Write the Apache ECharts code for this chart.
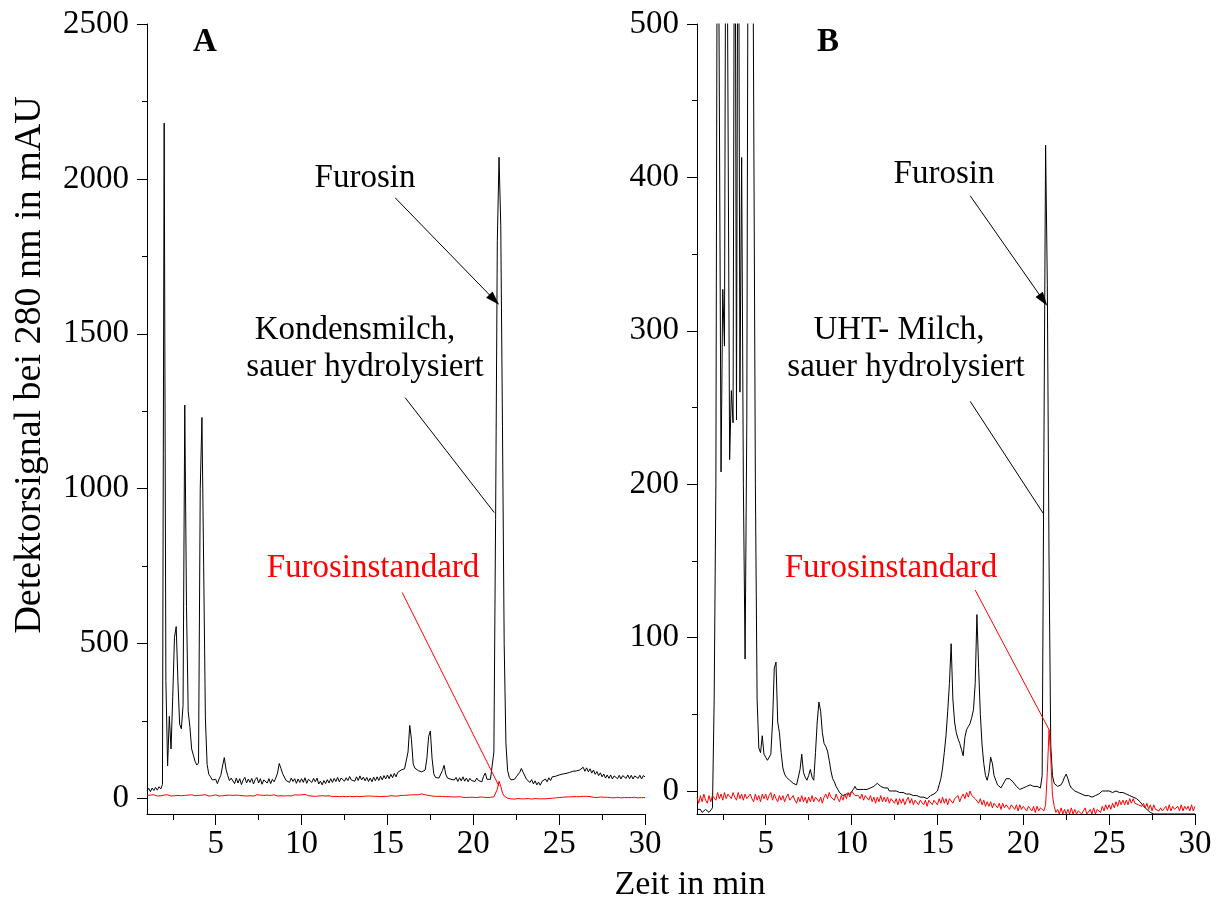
<!DOCTYPE html>
<html>
<head>
<meta charset="utf-8">
<script src="https://cdn.jsdelivr.net/npm/echarts@6/dist/echarts.min.js"></script>
<style>
  html, body { margin: 0; padding: 0; background: #fff; }
  #chart { width: 1223px; height: 906px; }
</style>
</head>
<body>
<div id="chart"></div>
<script>
// Chromatogram sampling: first time point and step (min)
const T0 = 1.0;
const DT = 0.1;

// Panel A: Kondensmilch, sauer hydrolysiert (mAU), t = 1.0 ... 30.0 min
const kondensmilch = [
  24, 33, 22, 34, 26, 36, 27, 38, 31, 45,
  2180, 380, 105, 265, 160, 330, 520, 555, 380, 240,
  225, 300, 1270, 620, 280, 230, 160, 140, 120, 108,
  115, 1000, 1230, 750, 260, 110, 78, 70, 60, 64,
  62, 48, 63, 75, 105, 132, 95, 74, 58, 66,
  62, 48, 66, 50, 64, 45, 60, 68, 50, 63,
  52, 65, 47, 61, 68, 50, 64, 46, 60, 66,
  50, 64, 48, 62, 54, 66, 82, 113, 97, 80,
  74, 58, 62, 52, 66, 55, 64, 49, 63, 52,
  64, 52, 67, 49, 62, 68, 52, 65, 54, 66,
  47, 56, 44, 58, 48, 61, 50, 64, 52, 65,
  55, 68, 54, 66, 70, 56, 67, 58, 71, 60,
  66, 56, 70, 58, 73, 60, 69, 57, 68, 55,
  66, 54, 69, 57, 70, 58, 72, 60, 74, 63,
  76, 64, 78, 67, 81, 70, 84, 80, 92, 90,
  96, 102, 150, 236, 190, 112, 98, 94, 90, 88,
  86, 90, 92, 130, 200, 218, 130, 80, 68, 72,
  66, 70, 90, 107, 78, 66, 70, 62, 67, 60,
  68, 55, 67, 57, 70, 56, 66, 54, 65, 58,
  64, 55, 66, 58, 62, 54, 72, 82, 62, 58,
  62, 58, 150, 900, 1800, 2070, 1850, 1200, 500, 180,
  90, 68, 60, 55, 62, 70, 76, 84, 97, 85,
  82, 62, 64, 52, 61, 47, 57, 44, 53, 43,
  55, 50, 63, 54, 67, 58, 70, 65, 72, 70,
  76, 72, 79, 74, 81, 79, 84, 81, 88, 84,
  89, 86, 92, 90, 101, 88, 99, 86, 96, 82,
  92, 78, 87, 74, 83, 70, 79, 66, 76, 65,
  76, 63, 73, 77, 64, 75, 63, 74, 78, 65,
  76, 64, 75, 63, 73, 77, 65, 75, 63, 74,
  70
];

// Panel A: Furosinstandard (mAU)
const standardA = [
  10, 8, 11, 9, 12, 10, 8, 11, 9, 10,
  11, 9, 12, 10, 8, 11, 9, 12, 10, 11,
  9, 12, 10, 8, 11, 9, 12, 10, 9, 11,
  10, 8, 11, 9, 12, 10, 8, 11, 9, 10,
  12, 10, 8, 11, 9, 12, 10, 9, 11, 8,
  10, 9, 11, 8, 10, 12, 9, 11, 8, 10,
  9, 11, 8, 10, 12, 9, 11, 8, 10, 9,
  11, 8, 10, 9, 12, 10, 8, 11, 9, 10,
  8, 10, 9, 11, 8, 10, 12, 9, 11, 10,
  12, 15, 13, 11, 9, 10, 8, 9, 7, 9,
  8, 7, 9, 6, 8, 7, 9, 8, 6, 8,
  7, 9, 6, 8, 7, 9, 6, 8, 7, 8,
  6, 8, 7, 9, 6, 8, 7, 6, 8, 7,
  8, 6, 7, 9, 7, 8, 6, 8, 7, 9,
  7, 8, 9, 7, 8, 10, 8, 9, 10, 9,
  10, 9, 11, 10, 12, 11, 12, 13, 12, 14,
  15, 13, 12, 11, 10, 9, 8, 9, 7, 8,
  7, 6, 7, 5, 6, 5, 6, 4, 5, 6,
  5, 4, 6, 5, 4, 5, 3, 5, 4, 5,
  4, 5, 3, 4, 5, 3, 4, 5, 3, 4,
  4, 3, 5, 8, 30, 56, 40, 18, 8, 3,
  1, 0, -1, 0, -2, -1, 0, -2, -1, 0,
  -1, -2, 0, -1, -2, -1, 0, -2, -1, -2,
  -1, 0, -1, 1, 0, 2, 1, 3, 2, 4,
  3, 5, 4, 6, 5, 6, 5, 7, 6, 7,
  6, 7, 6, 8, 7, 6, 7, 5, 6, 5,
  4, 5, 3, 4, 5, 3, 4, 2, 4, 3,
  3, 4, 2, 3, 4, 3, 2, 4, 3, 2,
  3, 4, 3, 2, 4, 3, 2, 4, 3, 3,
  3
];

// Panel B: UHT-Milch, sauer hydrolysiert (mAU)
const uhtMilch = [
  -12, -13, -12, -14, -13, -12, -13, -14, -13, -11,
  60, 200, 700, 700, 208, 327, 290, 700, 700, 216,
  261, 240, 700, 242, 700, 260, 413, 200, 86, 240,
  700, 700, 700, 700, 200, 60, 28, 25, 36, 24,
  22, 20, 19, 24, 45, 80, 84, 45, 38, 25,
  15, 11, 9, 10, 7, 8, 5, 6, 4, 5,
  14, 24, 12, 9, 7, 10, 14, 9, 7, 25,
  45, 58, 52, 38, 31, 29, 26, 20, 13, 8,
  6, 3, 1, -1, -2, -3, -3, -2, -3, -2,
  -1, 1, 3, 1, 0, 1, 0, 1, 2, 1,
  1, 2, 1, 3, 4, 5, 4, 3, 2, 2,
  1, 2, 0, 1, 0, -1, 0, -1, -1, -2,
  -1, -2, -2, -3, -2, -3, -3, -4, -3, -4,
  -4, -5, -4, -5, -5, -4, -3, -3, -2, -2,
  0, 4, 8, 15, 25, 36, 52, 70, 96, 60,
  45, 38, 34, 31, 27, 23, 35, 40, 42, 44,
  48, 53, 70, 115, 80, 50, 30, 18, 10, 7,
  12, 22, 18, 10, 7, 4, 3, 2, 4, 6,
  8, 9, 8, 7, 6, 5, 3, 2, 1, 1,
  2, 3, 3, 4, 4, 4, 3, 2, 3, 2,
  2, 10, 220, 421, 330, 150, 30, 10, 5, 4,
  3, 3, 4, 6, 9, 11, 8, 4, 2, 1,
  0, 0, -1, -1, -2, -2, -3, -3, -3, -4,
  -4, -4, -3, -3, -2, -1, 0, 0, 0, -1,
  0, 0, -1, -1, 0, -1, -1, -2, -1, -2,
  -2, -2, -3, -3, -4, -4, -5, -6, -7, -8,
  -10, -11, -12, -13, -14, -14, -15, -15, -15, -15,
  -15, -15, -15, -15, -15, -15, -15, -15, -15, -15,
  -15, -15, -15, -15, -15, -15, -15, -15, -15, -15,
  -15
];

// Panel B: Furosinstandard (mAU)
const standardB = [
  -4, -8, -3, -7, -2, -6, -8, -3, -7, -3,
  -2, -6, -1, -5, -2, -6, -1, -5, -2, -1,
  -5, -1, -4, -6, -1, -5, -2, -6, -2, -5,
  -6, -2, -5, -7, -2, -6, -3, -7, -2, -5,
  -2, -6, -3, -1, -6, -2, -5, -7, -3, -6,
  -3, -7, -4, -2, -6, -7, -3, -6, -8, -4,
  -7, -3, -7, -4, -8, -4, -7, -3, -7, -4,
  -3, -7, -4, -8, -4, -2, -5, -1, -4, -3,
  -6, -2, -5, -7, -3, -6, -2, -5, -1, -4,
  0, 1, -3, -2, -3, -5, -2, -6, -3, -4,
  -6, -3, -7, -4, -8, -4, -7, -3, -7, -4,
  -7, -4, -8, -5, -4, -8, -5, -9, -5, -8,
  -5, -9, -6, -4, -8, -5, -9, -6, -5, -9,
  -6, -5, -9, -6, -10, -6, -5, -9, -6, -5,
  -9, -5, -8, -4, -8, -5, -9, -5, -4, -8,
  -5, -6, -3, -7, -4, -2, -5, -1, -4, 0,
  -3, -2, -5, -4, -8, -5, -9, -6, -10, -7,
  -10, -7, -11, -8, -7, -11, -8, -12, -8, -11,
  -9, -10, -12, -9, -10, -12, -9, -13, -9, -12,
  -10, -11, -13, -10, -11, -13, -10, -14, -10, -13,
  -11, -12, -13, -9, 12, 40, 22, -3, -10, -14,
  -12, -15, -11, -15, -12, -15, -12, -15, -11, -15,
  -12, -15, -13, -12, -15, -13, -11, -15, -14, -12,
  -15, -11, -15, -12, -11, -14, -10, -13, -9, -12,
  -9, -12, -8, -11, -7, -10, -6, -9, -6, -9,
  -6, -9, -5, -8, -5, -8, -7, -9, -8, -10,
  -8, -11, -8, -12, -9, -13, -9, -12, -11, -13,
  -11, -13, -12, -10, -13, -9, -13, -10, -12, -13,
  -10, -13, -9, -13, -10, -12, -10, -13, -9, -13,
  -10
];

// Axis ranges and tick positions
const xRange = [1, 30];
const xMajor = [5, 10, 15, 20, 25, 30];
const xMinor = [2.5, 7.5, 12.5, 17.5, 22.5, 27.5];
const yRangeA = [-50, 2500];
const yMajorA = [0, 500, 1000, 1500, 2000, 2500];
const yMinorA = [250, 750, 1250, 1750, 2250];
const yRangeB = [-15, 500];
const yMajorB = [0, 100, 200, 300, 400, 500];
const yMinorB = [50, 150, 250, 350, 450];

const FONT = '"Liberation Serif", "Times New Roman", serif';
const FS = 33;

function toPairs(vals) {
  return vals.map((v, i) => [+(T0 + i * DT).toFixed(1), v]);
}

const grids = [
  { left: 147, top: 24, width: 498, height: 790 },
  { left: 697, top: 24, width: 498, height: 790 }
];

const plain = v => String(v);

function xMajorAxis(gi) {
  return {
    type: 'value', gridIndex: gi, position: 'bottom', offset: 0,
    min: xRange[0], max: xRange[1],
    axisLine: { show: true, onZero: false, lineStyle: { color: '#000', width: 1 } },
    axisTick: { show: true, length: 11, customValues: xMajor, lineStyle: { color: '#000', width: 1 } },
    axisLabel: { show: true, customValues: xMajor, formatter: plain, margin: 14, color: '#000', fontFamily: FONT, fontSize: FS },
    splitLine: { show: false }
  };
}
function xMinorAxis(gi) {
  return {
    type: 'value', gridIndex: gi, position: 'bottom', offset: 0,
    min: xRange[0], max: xRange[1],
    axisLine: { show: false, onZero: false },
    axisTick: { show: true, length: 6, customValues: xMinor, lineStyle: { color: '#000', width: 1 } },
    axisLabel: { show: false },
    splitLine: { show: false }
  };
}
function yMajorAxis(gi, range, ticks) {
  return {
    type: 'value', gridIndex: gi, position: 'left', offset: 0,
    min: range[0], max: range[1],
    axisLine: { show: true, onZero: false, lineStyle: { color: '#000', width: 1 } },
    axisTick: { show: true, length: 10, customValues: ticks, lineStyle: { color: '#000', width: 1 } },
    axisLabel: { show: true, customValues: ticks, formatter: plain, margin: 18, color: '#000', fontFamily: FONT, fontSize: FS },
    splitLine: { show: false }
  };
}
function yMinorAxis(gi, range, ticks) {
  return {
    type: 'value', gridIndex: gi, position: 'left', offset: 0,
    min: range[0], max: range[1],
    axisLine: { show: false, onZero: false },
    axisTick: { show: true, length: 5, customValues: ticks, lineStyle: { color: '#000', width: 1 } },
    axisLabel: { show: false },
    splitLine: { show: false }
  };
}

function trace(vals, color, xi, yi, lines) {
  const s = {
    type: 'line', xAxisIndex: xi, yAxisIndex: yi,
    data: toPairs(vals), showSymbol: false, symbol: 'none',
    lineStyle: { color: color, width: 1 }, clip: true, silent: true,
    animation: false
  };
  if (lines) {
    s.markLine = {
      silent: true, animation: false,
      label: { show: false },
      lineStyle: { color: color, width: 1, type: 'solid' },
      data: lines
    };
  }
  return s;
}

// Leader lines in data coordinates; arrowed ones end in a filled triangle
function leader(from, to, arrow) {
  return [
    { coord: from, symbol: 'none' },
    { coord: to, symbol: arrow ? 'triangle' : 'none', symbolSize: arrow ? [9, 14] : 0 }
  ];
}

function txt(x, y, text, opts) {
  opts = opts || {};
  return {
    type: 'text', x: x, y: y, rotation: opts.rotation || 0,
    style: {
      text: text, fill: opts.color || '#000',
      font: (opts.bold ? 'bold ' : '') + (opts.size || FS) + 'px ' + FONT,
      textAlign: 'center', textVerticalAlign: 'middle'
    },
    silent: true
  };
}

const option = {
  backgroundColor: '#fff',
  animation: false,
  grid: grids,
  xAxis: [xMajorAxis(0), xMinorAxis(0), xMajorAxis(1), xMinorAxis(1)],
  yAxis: [
    yMajorAxis(0, yRangeA, yMajorA), yMinorAxis(0, yRangeA, yMinorA),
    yMajorAxis(1, yRangeB, yMajorB), yMinorAxis(1, yRangeB, yMinorB)
  ],
  series: [
    trace(kondensmilch, '#000', 0, 0, [
      leader([15.45, 1939], [21.22, 1610], true),
      leader([16.03, 1294], [21.22, 923], false)
    ]),
    trace(standardA, '#ff0000', 0, 0, [
      leader([15.86, 665], [21.5, 40], false)
    ]),
    trace(uhtMilch, '#000', 2, 2, [
      leader([16.91, 388], [21.16, 320], true),
      leader([16.91, 254], [21.16, 181], false)
    ]),
    trace(standardB, '#ff0000', 2, 2, [
      leader([17.2, 131], [21.5, 40], false)
    ])
  ],
  graphic: [
    txt(205, 42, 'A', { bold: true }),
    txt(365, 178, 'Furosin'),
    txt(355, 330, 'Kondensmilch,'),
    txt(365, 367, 'sauer hydrolysiert'),
    txt(373, 568, 'Furosinstandard', { color: '#ff0000' }),
    txt(828, 42, 'B', { bold: true }),
    txt(944, 174, 'Furosin'),
    txt(899, 330, 'UHT- Milch,'),
    txt(906, 367, 'sauer hydrolysiert'),
    txt(891, 568, 'Furosinstandard', { color: '#ff0000' }),
    txt(30, 365, 'Detektorsignal bei 280 nm in mAU', { rotation: Math.PI / 2, size: 38 }),
    txt(690, 885, 'Zeit in min', { size: 34 })
  ]
};

const chart = echarts.init(document.getElementById('chart'), null, { renderer: 'canvas' });
chart.setOption(option);
</script>
</body>
</html>
